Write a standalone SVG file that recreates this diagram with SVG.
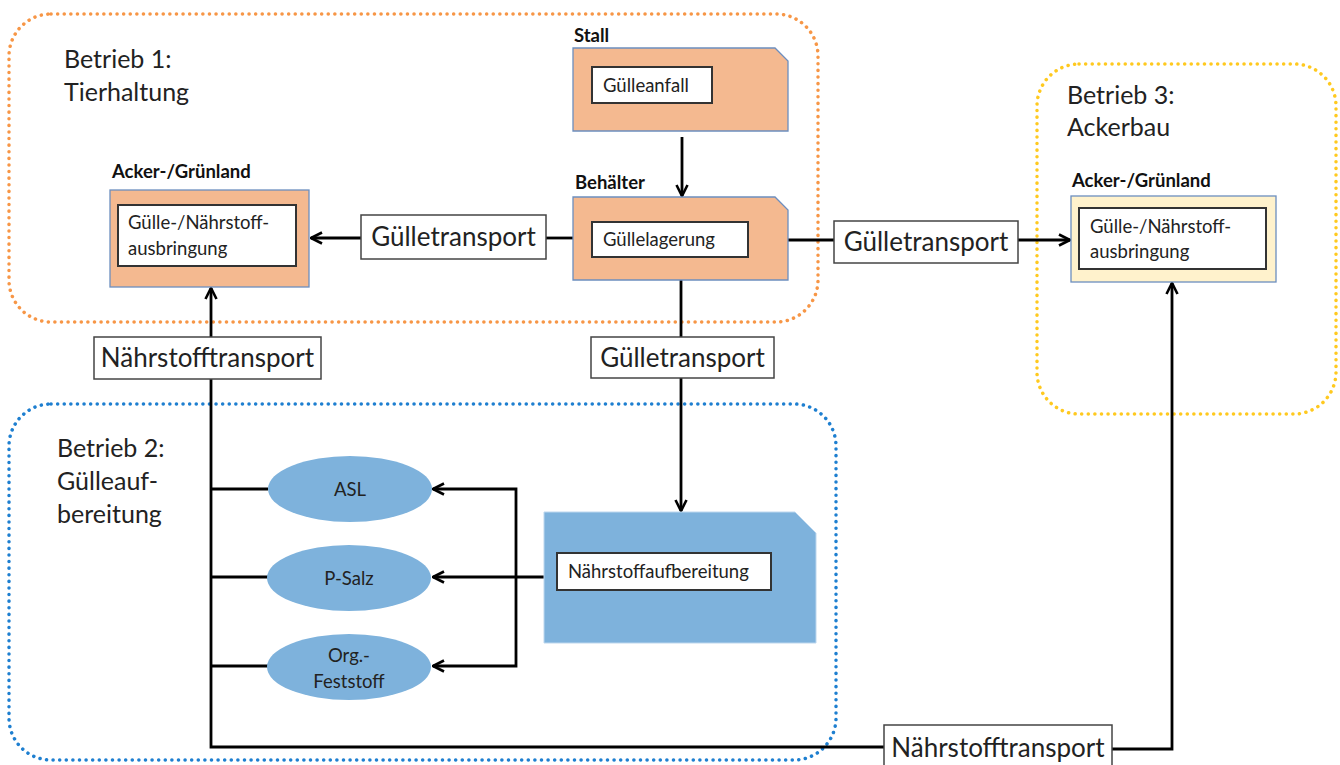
<svg xmlns="http://www.w3.org/2000/svg" width="1340" height="765" viewBox="0 0 1340 765">
  <defs>
    <marker id="arr" viewBox="0 0 14 14" refX="12.5" refY="7" markerWidth="14" markerHeight="14" markerUnits="userSpaceOnUse" orient="auto">
      <path d="M1.5,1.5 L12.5,7 L1.5,12.5" fill="none" stroke="#000" stroke-width="2.6"/>
    </marker>
  </defs>
  <style>
    text { font-family: Lato, "Open Sans", "Liberation Sans", sans-serif; fill: #222; }
    .zone { fill: none; stroke-width: 3.5; stroke-dasharray: 0.1 6.5; stroke-linecap: round; }
    .title { font-size: 25px; }
    .head { font-size: 18.5px; font-weight: bold; fill: #111; }
    .small { font-size: 18.5px; }
    .big { font-size: 26px; }
    .tag { fill: #fff; stroke: #444; stroke-width: 1.5; }
    .inner { fill: #fff; stroke: #333; stroke-width: 2; }
    .salmon { fill: #F4B990; stroke: #6C8EBF; stroke-width: 1.3; }
    .cream { fill: #FFF2CC; stroke: #6C8EBF; stroke-width: 1.3; }
    .blue { fill: #7EB2DC; stroke: #BDD7EE; stroke-width: 1; }
    .wire { fill: none; stroke: #000; stroke-width: 2.8; }
  </style>

  <!-- operation zones -->
  <g id="betrieb1">
    <rect class="zone" x="9" y="14" width="809" height="308" rx="42" stroke="#F79646"/>
    <text class="title" x="64" y="68">Betrieb 1:</text>
    <text class="title" x="64" y="101">Tierhaltung</text>
  </g>
  <g id="betrieb2">
    <rect class="zone" x="9" y="404" width="827" height="356" rx="42" stroke="#1E7FD0"/>
    <text class="title" x="57" y="457">Betrieb 2:</text>
    <text class="title" x="57" y="490">Gülleauf-</text>
    <text class="title" x="57" y="523">bereitung</text>
  </g>
  <g id="betrieb3">
    <rect class="zone" x="1037" y="64" width="299" height="350" rx="42" stroke="#FFC91F"/>
    <text class="title" x="1067" y="104">Betrieb 3:</text>
    <text class="title" x="1067" y="136">Ackerbau</text>
  </g>

  <!-- connectors -->
  <g id="connectors">
    <line class="wire" x1="682" y1="137" x2="682" y2="196" marker-end="url(#arr)"/>
    <line class="wire" x1="573" y1="238" x2="546" y2="238"/>
    <line class="wire" x1="361" y1="238" x2="311" y2="238" marker-end="url(#arr)"/>
    <line class="wire" x1="788" y1="240" x2="834" y2="240"/>
    <line class="wire" x1="1018" y1="240" x2="1070" y2="240" marker-end="url(#arr)"/>
    <line class="wire" x1="681" y1="280" x2="681" y2="337"/>
    <line class="wire" x1="681" y1="378" x2="681" y2="511" marker-end="url(#arr)"/>
    <line class="wire" x1="544" y1="577" x2="433" y2="577" marker-end="url(#arr)"/>
    <polyline class="wire" points="516,577 516,489 433,489" marker-end="url(#arr)"/>
    <polyline class="wire" points="516,577 516,666 433,666" marker-end="url(#arr)"/>
    <line class="wire" x1="211" y1="489" x2="268" y2="489"/>
    <line class="wire" x1="211" y1="577" x2="268" y2="577"/>
    <line class="wire" x1="211" y1="666" x2="268" y2="666"/>
    <line class="wire" x1="211" y1="337" x2="211" y2="288" marker-end="url(#arr)"/>
    <polyline class="wire" points="211,379 211,747 884,747"/>
    <polyline class="wire" points="1112,749 1172,749 1172,283" marker-end="url(#arr)"/>
  </g>

  <!-- nodes -->
  <g id="stall">
    <text class="head" x="574" y="42">Stall</text>
    <path class="salmon" d="M573,48 H775 L788,61 V131 H573 Z"/>
    <rect class="inner" x="592" y="67" width="120" height="36"/>
    <text class="small" x="603" y="92">Gülleanfall</text>
  </g>
  <g id="behaelter">
    <text class="head" x="575" y="189">Behälter</text>
    <path class="salmon" d="M573,197 H775 L788,210 V280 H573 Z"/>
    <rect class="inner" x="592" y="222" width="156" height="35"/>
    <text class="small" x="603" y="246">Güllelagerung</text>
  </g>
  <g id="acker1">
    <text class="head" x="112" y="178">Acker-/Grünland</text>
    <rect class="salmon" x="110" y="190" width="199" height="97"/>
    <rect class="inner" x="118" y="205" width="178" height="61"/>
    <text class="small" x="128" y="229">Gülle-/Nährstoff-</text>
    <text class="small" x="128" y="255">ausbringung</text>
  </g>
  <g id="acker3">
    <text class="head" x="1072" y="187">Acker-/Grünland</text>
    <rect class="cream" x="1071" y="196" width="205" height="86"/>
    <rect class="inner" x="1079" y="208" width="187" height="61"/>
    <text class="small" x="1090" y="233">Gülle-/Nährstoff-</text>
    <text class="small" x="1090" y="258">ausbringung</text>
  </g>
  <g id="transport-links">
    <rect class="tag" x="361" y="215" width="185" height="44"/>
    <text class="big" x="453.5" y="246" text-anchor="middle">Gülletransport</text>
  </g>
  <g id="transport-rechts">
    <rect class="tag" x="834" y="221" width="184" height="42"/>
    <text class="big" x="926" y="251" text-anchor="middle">Gülletransport</text>
  </g>
  <g id="transport-mitte">
    <rect class="tag" x="591" y="337" width="183" height="41"/>
    <text class="big" x="682.5" y="367" text-anchor="middle">Gülletransport</text>
  </g>
  <g id="naehrstoff-links">
    <rect class="tag" x="94" y="337" width="227" height="42"/>
    <text class="big" x="207.5" y="367" text-anchor="middle">Nährstofftransport</text>
  </g>
  <g id="naehrstoff-unten">
    <rect class="tag" x="884" y="725" width="228" height="44"/>
    <text class="big" x="998" y="757" text-anchor="middle">Nährstofftransport</text>
  </g>
  <g id="aufbereitung">
    <path class="blue" d="M544,512 H795 L816,533 V643 H544 Z"/>
    <rect class="inner" x="557" y="553" width="214" height="37"/>
    <text class="small" x="568" y="578">Nährstoffaufbereitung</text>
  </g>
  <g id="asl">
    <ellipse fill="#7EB2DC" cx="350" cy="489" rx="82" ry="33"/>
    <text class="small" x="350" y="496" text-anchor="middle">ASL</text>
  </g>
  <g id="psalz">
    <ellipse fill="#7EB2DC" cx="349" cy="578" rx="82" ry="33"/>
    <text class="small" x="349" y="585" text-anchor="middle">P-Salz</text>
  </g>
  <g id="feststoff">
    <ellipse fill="#7EB2DC" cx="349" cy="667" rx="82" ry="33"/>
    <text class="small" x="349" y="662" text-anchor="middle">Org.-</text>
    <text class="small" x="349" y="688" text-anchor="middle">Feststoff</text>
  </g>
</svg>
